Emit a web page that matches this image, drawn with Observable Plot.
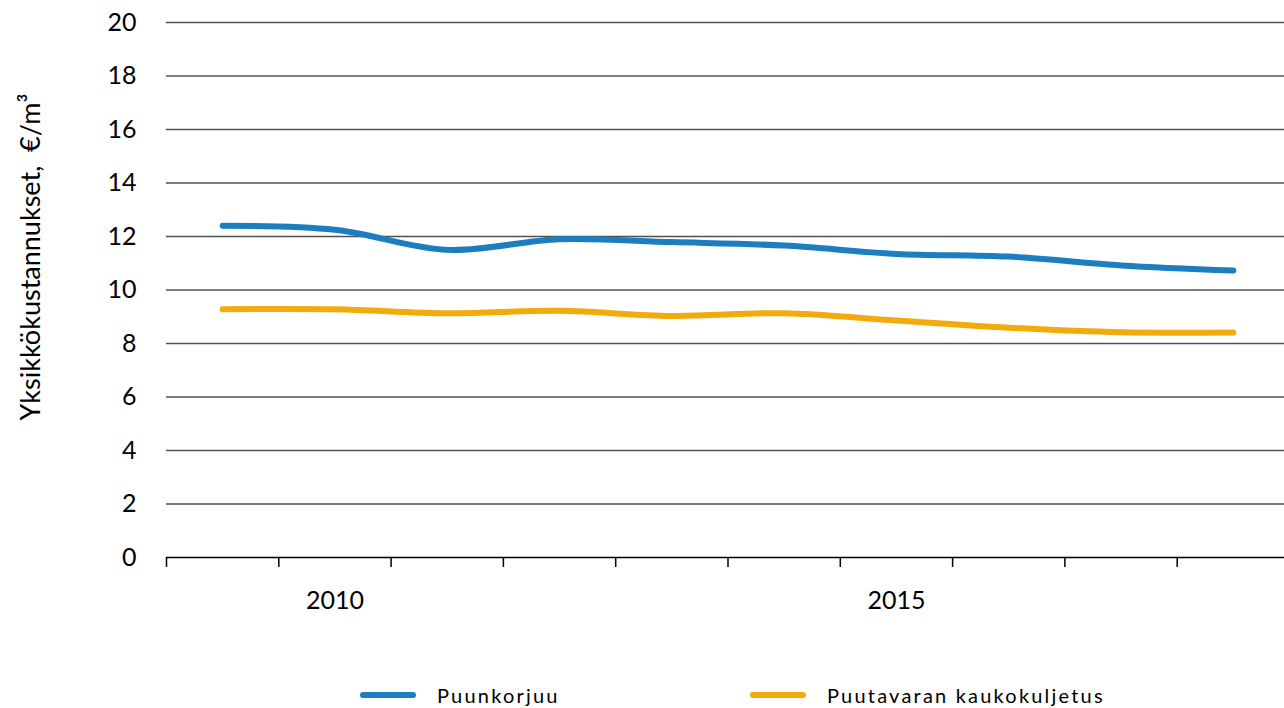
<!DOCTYPE html>
<html>
<head>
<meta charset="utf-8">
<script src="https://cdn.jsdelivr.net/npm/d3@7"></script>
<script src="https://cdn.jsdelivr.net/npm/@observablehq/plot@0.6"></script>
<style>
  html, body { margin: 0; padding: 0; background: #fff; }
  #wrap { position: relative; width: 1284px; height: 708px; overflow: hidden; font-family: Lato, "Open Sans", sans-serif; }
  .leg { position: absolute; top: 682px; height: 26px; display: flex; align-items: center; font-size: 20px; letter-spacing: 2.2px; color: #000; }
  .leg svg { margin-right: 20px; }
</style>
</head>
<body>
<div id="wrap"></div>
<script>
const years = [2009, 2010, 2011, 2012, 2013, 2014, 2015, 2016, 2017, 2018];
const harvesting = [12.4, 12.25, 11.5, 11.9, 11.79, 11.66, 11.35, 11.25, 10.92, 10.73];
const transport = [9.28, 9.28, 9.13, 9.22, 9.03, 9.13, 8.86, 8.59, 8.42, 8.41];
const seriesNames = ["Puunkorjuu", "Puutavaran kaukokuljetus"];
const seriesColors = ["#1c7dc1", "#f2aa0d"];
const yTicks = [0, 2, 4, 6, 8, 10, 12, 14, 16, 18, 20];
const xLabels = [2010, 2015];
const yLabel = "Yksikkökustannukset,\u00a0 €/m³";

const rows = [
  ...years.map((year, i) => ({year, value: harvesting[i], series: seriesNames[0]})),
  ...years.map((year, i) => ({year, value: transport[i], series: seriesNames[1]}))
];
const boundaries = [...years.map(y => y - 0.5), years[years.length - 1] + 0.5];

const chart = Plot.plot({
  width: 1284,
  height: 682,
  marginLeft: 166,
  marginRight: 0,
  marginTop: 22,
  marginBottom: 125,
  style: {fontFamily: "Lato, 'Open Sans', sans-serif", fontSize: "25px", color: "#000", background: "#fff", overflow: "visible"},
  x: {type: "linear", domain: [years[0] - 0.5, years[years.length - 1] + 0.5], range: [166, 1289]},
  y: {domain: [0, 20]},
  color: {domain: seriesNames, range: seriesColors},
  marks: [
    Plot.ruleY(yTicks.filter(d => d > 0), {stroke: "#505050", strokeWidth: 1.5}),
    Plot.axisX(boundaries, {tickSize: 10, tickFormat: () => "", stroke: "#000", strokeWidth: 1.5, label: null}),
    Plot.ruleY([0], {stroke: "#000", strokeWidth: 1.5}),
    Plot.axisX(xLabels, {tickSize: 0, tickPadding: 34, tickFormat: d => String(d), label: null}),
    Plot.axisY(yTicks, {tickSize: 0, tickPadding: 30, label: null}),
    Plot.text([yLabel], {frameAnchor: "left", rotate: -90, dx: -135, dy: -33, textAnchor: "middle", lineAnchor: "middle", fontSize: 27}),
    Plot.line(rows, {x: "year", y: "value", z: "series", stroke: "series", strokeWidth: 6, curve: "catmull-rom", strokeLinecap: "round", strokeLinejoin: "round"})
  ]
});
const wrap = document.getElementById("wrap");
wrap.appendChild(chart);

const legendLeft = [362, 752];
seriesNames.forEach((name, i) => {
  const item = document.createElement("div");
  item.className = "leg";
  item.style.left = (legendLeft[i] - 3) + "px";
  item.innerHTML = `<svg width="58" height="10"><line x1="4" y1="5" x2="54" y2="5" stroke="${seriesColors[i]}" stroke-width="6" stroke-linecap="round"/></svg><span>${name}</span>`;
  wrap.appendChild(item);
});
</script>
</body>
</html>
